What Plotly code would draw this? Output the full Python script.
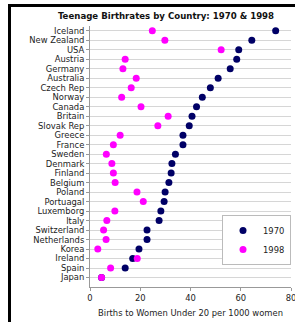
import plotly.graph_objects as go

countries = ["Iceland", "New Zealand", "USA", "Austria", "Germany", "Australia",
             "Czech Rep", "Norway", "Canada", "Britain", "Slovak Rep", "Greece",
             "France", "Sweden", "Denmark", "Finland", "Belgium", "Poland",
             "Portuagal", "Luxemborg", "Italy", "Switzerland", "Netherlands",
             "Korea", "Ireland", "Spain", "Japan"]
rate_1970 = [73.9, 64.4, 59.2, 58.4, 55.8, 51.0, 47.9, 44.7, 42.4, 40.6, 39.5, 37.0,
             37.0, 34.0, 32.6, 32.3, 31.4, 29.9, 29.5, 28.2, 27.5, 22.7, 22.7,
             19.5, 17.0, 14.0, 4.6]
rate_1998 = [24.8, 29.8, 52.2, 14.0, 13.1, 18.4, 16.4, 12.6, 20.3, 31.1, 27.0, 12.0,
             9.3, 6.5, 8.7, 9.3, 10.0, 18.7, 21.2, 9.9, 6.7, 5.4, 6.4,
             3.1, 18.8, 8.2, 4.6]
x_ticks = [0, 20, 40, 60, 80]

W, H = 295, 322
L, R, T, B = 90, 4, 26, 35
PW, PH = W - L - R, H - T - B

def pxx(p):
    return (p - L) / PW

def pxy(p):
    return (H - B - p) / PH

font = "DejaVu Sans"
fig = go.Figure()
fig.add_trace(go.Scatter(x=rate_1970, y=countries, mode="markers", name="1970",
                         marker=dict(color="#000066", size=7)))
fig.add_trace(go.Scatter(x=rate_1998, y=countries, mode="markers", name="1998",
                         marker=dict(color="#ff00ff", size=7)))

fig.update_layout(
    width=W, height=H,
    margin=dict(l=L, r=R, t=T, b=B, autoexpand=False),
    paper_bgcolor="white", plot_bgcolor="white",
    font=dict(family=font, size=8.4, color="#222"),
    title=dict(text="<b>Teenage Birthrates by Country: 1970 &amp; 1998</b>",
               x=166 / W, xref="container", xanchor="center",
               y=1 - 16 / H, yref="container", yanchor="middle",
               font=dict(family=font, size=8.6, color="#111")),
    legend=dict(x=1.0, y=pxy(215), xanchor="right", yanchor="top",
                bgcolor="white", bordercolor="#bbbbbb", borderwidth=1,
                itemwidth=30, font=dict(size=8.4, color="#222")),
    showlegend=True,
)
fig.update_xaxes(range=[0, 80], tickvals=x_ticks, showgrid=False, zeroline=False,
                 showline=True, linecolor="#999999", linewidth=1,
                 ticks="outside", ticklen=3, tickcolor="#999999", automargin=False,
                 ticklabeloverflow="allow",
                 title=dict(text="Births to Women Under 20 per 1000 women", standoff=8,
                            font=dict(size=8.4)))
fig.update_yaxes(type="category", categoryorder="array",
                 categoryarray=list(reversed(countries)),
                 tickmode="array", tickvals=countries, ticktext=countries,
                 range=[-1, 26.5], showgrid=True, gridcolor="#d6d6d6", gridwidth=1,
                 showline=True, linecolor="#999999", linewidth=1, automargin=False,
                 ticks="outside", ticklen=3, tickcolor="#999999")

# black frame (top and left)
fig.add_shape(type="rect", xref="paper", yref="paper",
              x0=pxx(8), x1=pxx(11), y0=pxy(H + 2), y1=pxy(4),
              fillcolor="black", line_width=0, layer="above")
fig.add_shape(type="rect", xref="paper", yref="paper",
              x0=pxx(8), x1=pxx(W + 2), y0=pxy(7), y1=pxy(4),
              fillcolor="black", line_width=0, layer="above")

fig.write_html("out.html", config={"displayModeBar": False},
               post_script="document.body.style.margin='0';")
